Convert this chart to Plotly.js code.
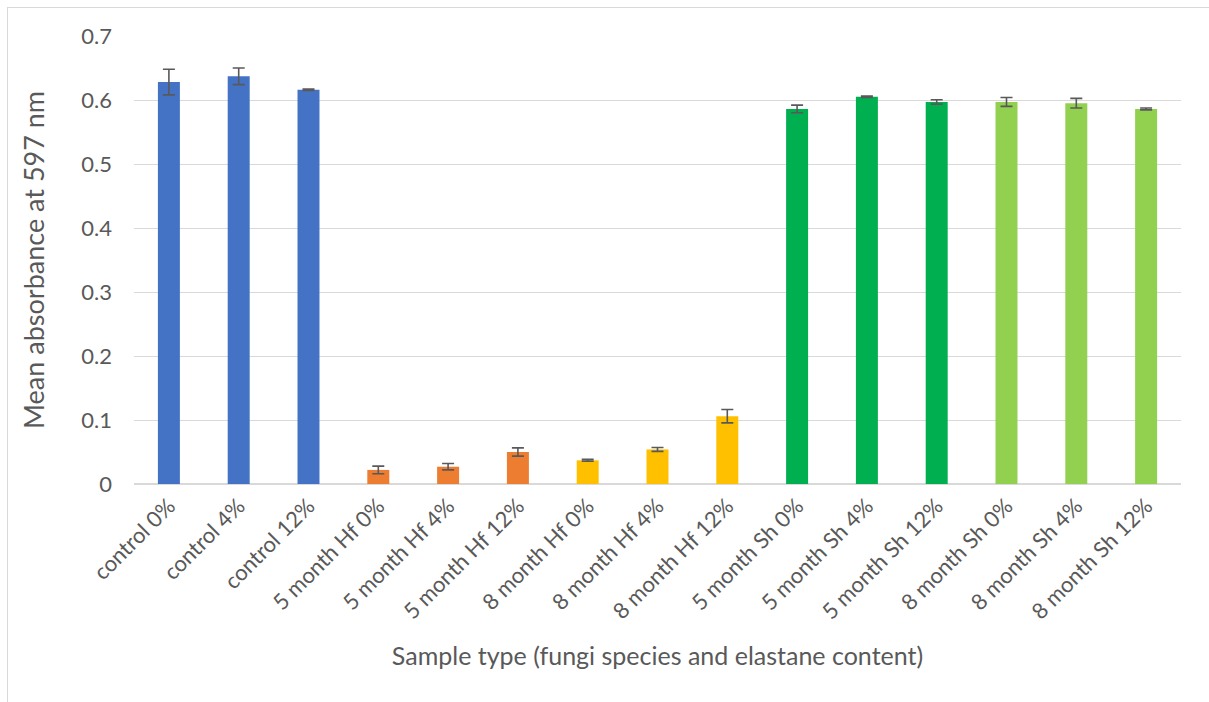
<!DOCTYPE html>
<html>
<head>
<meta charset="utf-8">
<script src="https://cdn.plot.ly/plotly-3.0.1.min.js"></script>
<style>
  html, body { margin: 0; padding: 0; background: #fff; }
  #wrap { position: relative; width: 1209px; height: 702px; overflow: hidden; }
  #chart { width: 1209px; height: 702px; }
  #frame { position: absolute; left: 7px; top: 7px; width: 1220px; height: 720px;
           border: 1px solid #d9d9d9; pointer-events: none; }
</style>
</head>
<body>
<div id="wrap">
  <div id="chart"></div>
  <div id="frame"></div>
</div>
<script>
const categories = [
  "control 0%", "control 4%", "control 12%",
  "5 month Hf 0%", "5 month Hf 4%", "5 month Hf 12%",
  "8 month Hf 0%", "8 month Hf 4%", "8 month Hf 12%",
  "5 month Sh 0%", "5 month Sh 4%", "5 month Sh 12%",
  "8 month Sh 0%", "8 month Sh 4%", "8 month Sh 12%"
];
const meanAbsorbance = [
  0.628, 0.637, 0.616,
  0.022, 0.027, 0.050,
  0.037, 0.054, 0.106,
  0.586, 0.605, 0.597,
  0.597, 0.595, 0.586
];
const errorValues = [
  0.020, 0.013, 0.001,
  0.006, 0.005, 0.0065,
  0.0015, 0.003, 0.0105,
  0.006, 0.001, 0.0035,
  0.007, 0.0075, 0.0015
];
const groups = [
  "control", "control", "control",
  "5 month Hf", "5 month Hf", "5 month Hf",
  "8 month Hf", "8 month Hf", "8 month Hf",
  "5 month Sh", "5 month Sh", "5 month Sh",
  "8 month Sh", "8 month Sh", "8 month Sh"
];
const groupColors = {
  "control": "#4472C4",
  "5 month Hf": "#ED7D31",
  "8 month Hf": "#FFC000",
  "5 month Sh": "#00B050",
  "8 month Sh": "#92D050"
};

const font = "Lato, 'Open Sans', 'Liberation Sans', sans-serif";

const trace = {
  type: "bar",
  x: categories,
  y: meanAbsorbance,
  marker: { color: groups.map(g => groupColors[g]) },
  error_y: {
    type: "data",
    array: errorValues,
    visible: true,
    color: "#595959",
    thickness: 1.6,
    width: 6
  },
  hoverinfo: "x+y"
};

const layout = {
  width: 1209,
  height: 702,
  margin: { l: 134, r: 28, t: 36, b: 218 },
  paper_bgcolor: "#ffffff",
  plot_bgcolor: "#ffffff",
  showlegend: false,
  bargap: 0.685,
  font: { family: font, color: "#595959", size: 20 },
  xaxis: {
    type: "category",
    tickangle: -45,
    tickfont: { family: font, size: 22, color: "#595959" },
    showgrid: false,
    showline: false,
    ticks: "",
    ticklabelstandoff: 4,
    title: {
      text: "Sample type (fungi species and elastane content)",
      font: { family: font, size: 25, color: "#595959" },
      standoff: 24
    },
    automargin: false
  },
  yaxis: {
    range: [0, 0.7],
    tickvals: [0, 0.1, 0.2, 0.3, 0.4, 0.5, 0.6, 0.7],
    ticktext: ["0", "0.1", "0.2", "0.3", "0.4", "0.5", "0.6", "0.7"],
    gridcolor: "#d9d9d9",
    gridwidth: 1,
    zeroline: true,
    zerolinecolor: "#d9d9d9",
    zerolinewidth: 1.5,
    showline: false,
    ticks: "",
    ticklabelstandoff: 21,
    tickfont: { family: font, size: 22, color: "#595959" },
    title: {
      text: "Mean absorbance at 597 nm",
      font: { family: font, size: 27, color: "#595959" },
      standoff: 28
    },
    automargin: false
  }
};

Plotly.newPlot("chart", [trace], layout, { displayModeBar: false, responsive: false });
</script>
</body>
</html>
